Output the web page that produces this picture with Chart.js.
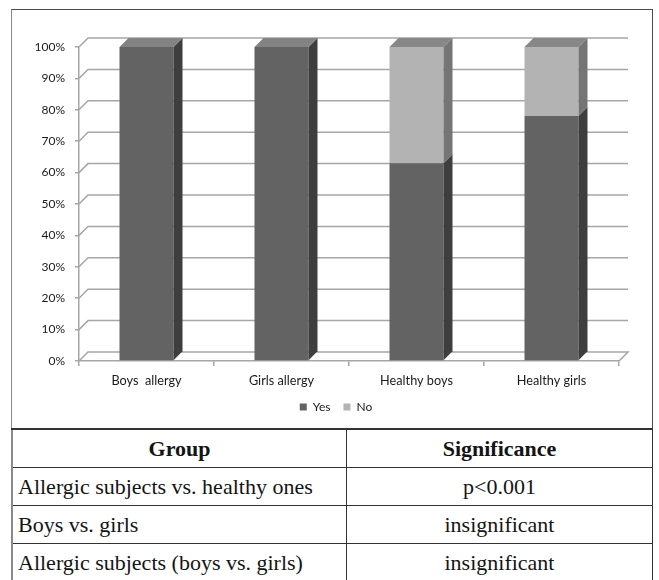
<!DOCTYPE html>
<html>
<head>
<meta charset="utf-8">
<script src="https://cdn.jsdelivr.net/npm/chart.js@4.4.1/dist/chart.umd.min.js"></script>
<style>
  html, body { margin: 0; padding: 0; background: #fff; }
  #frame {
    position: absolute; left: 11px; top: 9px;
    width: 640px; height: 418px;
    border: 1px solid #4a4a4a; border-left: 1px solid #8a8a8a;
  }
  #chart { display: block; }
  #sig {
    position: absolute; left: 11px; top: 428px; width: 642px;
    border-collapse: collapse;
    font-family: "Liberation Serif", "Times New Roman", serif;
    font-size: 22px; color: #141414;
  }
  #sig th, #sig td {
    border: 1px solid #333; height: 37px; padding: 0 5px;
    text-align: center; vertical-align: middle; line-height: 1;
  }
  #sig tr:first-child th { border-top: 2px solid #333; }
  #sig th:first-child, #sig td:first-child { border-left: 2px solid #8a8a8a; width: 323px; }
  #sig td:first-child { text-align: left; }
</style>
</head>
<body>
<div id="frame"><canvas id="chart" width="640" height="418"></canvas></div>
<table id="sig">
  <tr><th>Group</th><th>Significance</th></tr>
  <tr><td>Allergic subjects vs. healthy ones</td><td>p&lt;0.001</td></tr>
  <tr><td>Boys vs. girls</td><td>insignificant</td></tr>
  <tr><td>Allergic subjects (boys vs. girls)</td><td>insignificant</td></tr>
</table>
<script>
// Groups along the x axis
const categories = ['Boys  allergy', 'Girls allergy', 'Healthy boys', 'Healthy girls'];
// Share of each answer per group, in percent
const yesValues = [100, 100, 63, 78];
const noValues = [0, 0, 37, 22];
const seriesNames = ['Yes', 'No'];
// Value axis ticks
const yTickValues = [0, 10, 20, 30, 40, 50, 60, 70, 80, 90, 100];

// Face colours for the extruded bars: front, side, top
const faceColors = [
  { front: '#636363', side: '#3e3e3e', top: '#838383' },
  { front: '#b3b3b3', side: '#757575', top: '#878787' }
];
const DEPTH = 9;
const GRID = '#a6a6a6';
const axisFont = { family: 'Lato', size: 12 };
const catFont = { family: 'Lato', size: 12.7 };

// Back wall grid lines and floor, drawn behind the bars
const wallPlugin = {
  id: 'wall3d',
  beforeDatasetsDraw(chart) {
    const { ctx, chartArea: a, scales: { y } } = chart;
    ctx.save();
    ctx.strokeStyle = GRID;
    ctx.lineWidth = 1.5;
    y.ticks.forEach(t => {
      const py = y.getPixelForValue(t.value);
      ctx.beginPath();
      ctx.moveTo(a.left, py);
      ctx.lineTo(a.left + DEPTH, py - DEPTH);
      ctx.lineTo(a.right + DEPTH, py - DEPTH);
      if (t.value === 0) ctx.lineTo(a.right, py);
      ctx.stroke();
    });
    ctx.restore();
  },
  // Side and top faces of each bar segment
  afterDatasetsDraw(chart) {
    const { ctx } = chart;
    ctx.save();
    categories.forEach((_, i) => {
      let topMost = null;
      chart.data.datasets.forEach((ds, d) => {
        const el = chart.getDatasetMeta(d).data[i];
        if (!el || !ds.data[i]) return;
        const p = el.getProps(['x', 'y', 'base', 'width'], true);
        const left = p.x - p.width / 2, right = p.x + p.width / 2;
        const top = Math.min(p.y, p.base), bottom = Math.max(p.y, p.base);
        ctx.fillStyle = faceColors[d].side;
        ctx.beginPath();
        ctx.moveTo(right, top);
        ctx.lineTo(right + DEPTH, top - DEPTH);
        ctx.lineTo(right + DEPTH, bottom - DEPTH);
        ctx.lineTo(right, bottom);
        ctx.closePath();
        ctx.fill();
        topMost = { left, right, top, d };
      });
      if (topMost) {
        ctx.fillStyle = faceColors[topMost.d].top;
        ctx.beginPath();
        ctx.moveTo(topMost.left, topMost.top);
        ctx.lineTo(topMost.left + DEPTH, topMost.top - DEPTH);
        ctx.lineTo(topMost.right + DEPTH, topMost.top - DEPTH);
        ctx.lineTo(topMost.right, topMost.top);
        ctx.closePath();
        ctx.fill();
      }
    });
    ctx.restore();
  }
};

new Chart(document.getElementById('chart'), {
  type: 'bar',
  data: {
    labels: categories,
    datasets: [
      { label: seriesNames[0], data: yesValues, backgroundColor: faceColors[0].front, borderWidth: 0 },
      { label: seriesNames[1], data: noValues, backgroundColor: faceColors[1].front, borderWidth: 0 }
    ]
  },
  options: {
    responsive: false,
    animation: false,
    events: [],
    categoryPercentage: 0.8,
    barPercentage: 0.5,
    layout: { padding: { left: 8, right: 0, top: 37, bottom: 5 } },
    plugins: {
      legend: {
        position: 'bottom',
        labels: { boxWidth: 7, boxHeight: 7, padding: 13, font: axisFont, color: '#1a1a1a' }
      },
      tooltip: { enabled: false }
    },
    scales: {
      x: {
        stacked: true,
        grid: { display: true, drawOnChartArea: false, offset: true, tickLength: 5, color: GRID, lineWidth: 1.5 },
        border: { display: true, color: GRID, width: 1.5 },
        ticks: { padding: 7, font: catFont, color: '#1a1a1a', maxRotation: 0 },
        afterFit(s) { s.height = 27; }
      },
      y: {
        stacked: true,
        min: 0, max: 100,
        afterBuildTicks(s) { s.ticks = yTickValues.map(v => ({ value: v })); },
        ticks: { padding: 10, font: axisFont, color: '#1a1a1a', callback: v => v + '%' },
        grid: { display: true, drawOnChartArea: false, tickLength: 4, color: GRID, lineWidth: 1.5 },
        border: { display: true, color: GRID, width: 1.5 },
        afterFit(s) { s.width = 59; }
      },
      yR: {
        position: 'right',
        display: true,
        grid: { display: false },
        border: { display: false },
        ticks: { display: false },
        afterFit(s) { s.width = 33; }
      }
    }
  },
  plugins: [wallPlugin]
});
</script>
</body>
</html>
